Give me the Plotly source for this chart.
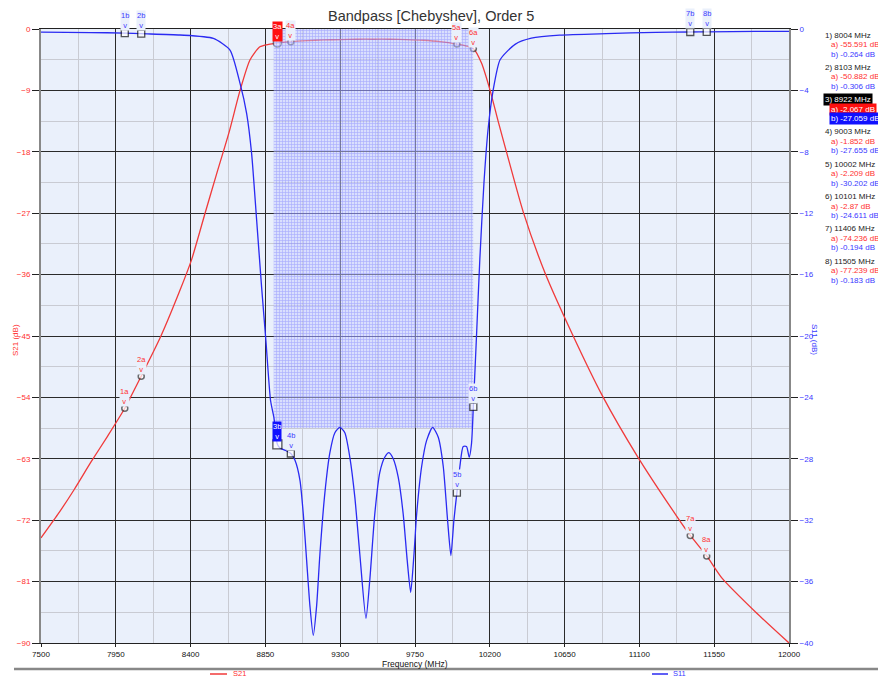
import plotly.graph_objects as go

W, H = 878, 678
L, R, T, B = 41, 89, 29, 35
PW, PH = W - L - R, H - T - B

RED = "#F03A3A"
BLUE = "#2A2AF2"
TXT_RED = "#FF3030"
TXT_BLUE = "#3A3AFF"
PLOT_BG = "#EAF0FB"
FONT = "Liberation Sans, Arial, sans-serif"

# ---------------- data ----------------
s21_freq = [7500, 7600, 7700, 7800, 7900, 8004, 8103, 8216, 8336, 8406, 8487, 8557,
            8633, 8697, 8757, 8817, 8870, 8922, 9003, 9100, 9200, 9300, 9400, 9500,
            9600, 9700, 9800, 9900, 10002, 10060, 10101, 10150, 10203, 10250, 10299,
            10401, 10533, 10696, 10876, 11087, 11327, 11406, 11505, 11597, 11800, 12000]
s21_db = [-74.6, -71.2, -67.5, -63.5, -59.7, -55.591, -50.882, -45.3, -38.3, -33.8, -27.0, -21.2,
          -15.0, -9.04, -4.54, -2.6, -2.25, -2.067, -1.852, -1.7, -1.6, -1.55, -1.5, -1.5,
          -1.5, -1.55, -1.65, -1.85, -2.209, -2.5, -2.87, -5.0, -9.1, -13.5, -17.9,
          -26.8, -35.8, -44.7, -53.7, -62.6, -71.5, -74.236, -77.239, -80.5, -85.5, -90.0]

s11_freq = [7500, 7800, 8004, 8103, 8336, 8537, 8637, 8697, 8737, 8767, 8797, 8827, 8853,
            8881, 8901, 8922, 8938, 8970, 9003, 9028, 9058, 9078, 9098, 9118, 9138, 9158,
            9178, 9208, 9238, 9268, 9298, 9328, 9358, 9388, 9418, 9455, 9478, 9508, 9538,
            9568, 9593, 9619, 9649, 9679, 9703, 9724, 9744, 9760, 9790, 9820, 9856, 9890,
            9920, 9946, 9966, 9984, 10002, 10020, 10040, 10060, 10076, 10090, 10101, 10120,
            10140, 10165, 10190, 10220, 10262, 10352, 10450, 10620, 10900, 11200, 11406,
            11505, 11800, 12000]
s11_db = [-0.2, -0.23, -0.264, -0.306, -0.39, -0.61, -1.37, -3.53, -5.49, -8.1, -12.4, -16.8, -20.3,
          -24.2, -25.3, -27.059, -27.3, -27.45, -27.655, -28.1, -29.4, -31.6, -34.6, -37.6, -39.5, -37.6,
          -34.2, -30.2, -27.6, -26.3, -25.95, -26.3, -27.9, -30.5, -34.2, -38.4, -35.9, -31.6, -28.9,
          -27.9, -27.6, -28.0, -29.2, -31.6, -34.6, -36.7, -34.2, -31.6, -28.5, -26.8, -25.95, -26.6,
          -28.5, -32.0, -34.3, -32.0, -30.202, -28.5, -27.2, -27.2, -27.9, -27.0, -24.611, -20.0,
          -15.0, -10.0, -6.5, -4.0, -2.0, -1.0, -0.6, -0.4, -0.3, -0.22, -0.194,
          -0.183, -0.16, -0.15]

marker_freq = [8004, 8103, 8922, 9003, 10002, 10101, 11406, 11505]
marker_a = [-55.591, -50.882, -2.067, -1.852, -2.209, -2.87, -74.236, -77.239]
marker_b = [-0.264, -0.306, -27.059, -27.655, -30.202, -24.611, -0.194, -0.183]
active_marker = 3

spec_freq = [8900, 10100]
spec_s11 = [0, -26]

x_ticks = list(range(7500, 12001, 450))
x_ticktext = [str(v) for v in x_ticks]
s21_ticks = list(range(-90, 1, 9))
s11_ticks = list(range(-40, 1, 4))


def px(x):
    return (x - L) / PW


def py(y):
    return (H - B - y) / PH


fig = go.Figure()

# spec box
fig.add_trace(go.Scatter(
    x=[spec_freq[0], spec_freq[1], spec_freq[1], spec_freq[0], spec_freq[0]],
    y=[spec_s11[0], spec_s11[0], spec_s11[1], spec_s11[1], spec_s11[0]],
    yaxis="y2", mode="lines", line=dict(width=0), fill="toself",
    fillcolor="rgba(200,205,255,0.6)",
    fillpattern=dict(shape="+", size=3, solidity=0.35, fgcolor="rgba(70,70,255,0.7)",
                     bgcolor="rgba(200,205,255,0.5)", fillmode="overlay"),
    hoverinfo="skip", showlegend=False))

fig.add_trace(go.Scatter(x=s21_freq, y=s21_db, name="S21", mode="lines",
                         line=dict(color=RED, width=1.3, shape="spline", smoothing=0.6),
                         showlegend=False))
fig.add_trace(go.Scatter(x=s11_freq, y=s11_db, name="S11", mode="lines", yaxis="y2",
                         line=dict(color=BLUE, width=1.3, shape="spline", smoothing=0.6),
                         showlegend=False))

# marker points
sizes_a = [8 if i + 1 == active_marker else 6 for i in range(len(marker_freq))]
sizes_b = [9 if i + 1 == active_marker else 7 for i in range(len(marker_freq))]
fig.add_trace(go.Scatter(x=marker_freq, y=marker_a, mode="markers", showlegend=False,
                         marker=dict(symbol="circle", color="white", size=sizes_a,
                                     line=dict(color="#333333", width=1.5)), cliponaxis=False))
fig.add_trace(go.Scatter(x=marker_freq, y=marker_b, mode="markers", yaxis="y2", showlegend=False,
                         marker=dict(symbol="square", color="white", size=sizes_b,
                                     line=dict(color="#111111", width=1.3)), cliponaxis=False))

annotations = []
for i, f in enumerate(marker_freq):
    n = i + 1
    act = n == active_marker
    annotations.append(dict(
        x=f, y=marker_a[i], xref="x", yref="y", text=f"{n}a<br>v", showarrow=False,
        xanchor="center", yanchor="middle", yshift=11.5,
        font=dict(size=7.5, color="white" if act else TXT_RED, family=FONT),
        bgcolor=("#FF1010" if act else PLOT_BG), borderpad=0))
    annotations.append(dict(
        x=f, y=marker_b[i], xref="x", yref="y2", text=f"{n}b<br>v", showarrow=False,
        xanchor="center", yanchor="middle", yshift=13,
        font=dict(size=7.5, color="white" if act else TXT_BLUE, family=FONT),
        bgcolor=("#1010FF" if act else PLOT_BG), borderpad=0))

# marker readout list
for i, f in enumerate(marker_freq):
    n = i + 1
    act = n == active_marker
    y0 = 35 + i * 32.3
    annotations.append(dict(x=px(823), y=py(y0), xref="paper", yref="paper", xanchor="left",
                            yanchor="middle", showarrow=False, text=f"{n}) {f} MHz",
                            font=dict(size=8, color="white" if act else "#222222", family=FONT),
                            bgcolor="#000000" if act else None, borderpad=1))
    annotations.append(dict(x=px(829), y=py(y0 + 9.5), xref="paper", yref="paper", xanchor="left",
                            yanchor="middle", showarrow=False, text=f"a) {marker_a[i]} dB",
                            font=dict(size=8, color="white" if act else TXT_RED, family=FONT),
                            bgcolor="#FF1010" if act else None, borderpad=1))
    annotations.append(dict(x=px(829), y=py(y0 + 19), xref="paper", yref="paper", xanchor="left",
                            yanchor="middle", showarrow=False, text=f"b) {marker_b[i]} dB",
                            font=dict(size=8, color="white" if act else TXT_BLUE, family=FONT),
                            bgcolor="#1010FF" if act else None, borderpad=1))

# titles
annotations.append(dict(x=px(431), y=py(15.5), xref="paper", yref="paper", showarrow=False,
                        xanchor="center", yanchor="middle", text="Bandpass [Chebyshev], Order 5",
                        font=dict(size=14.5, color="#333333", family=FONT)))
annotations.append(dict(x=px(15), y=py(340), xref="paper", yref="paper", showarrow=False,
                        xanchor="center", yanchor="middle", text="S21 (dB)", textangle=-90,
                        font=dict(size=8, color=TXT_RED, family=FONT)))
annotations.append(dict(x=px(815), y=py(340), xref="paper", yref="paper", showarrow=False,
                        xanchor="center", yanchor="middle", text="S11 (dB)", textangle=90,
                        font=dict(size=8, color=TXT_BLUE, family=FONT)))
annotations.append(dict(x=px(415), y=py(664), xref="paper", yref="paper", showarrow=False,
                        xanchor="center", yanchor="middle", text="Frequency (MHz)",
                        font=dict(size=8.5, color="#111111", family=FONT)))
# legend
annotations.append(dict(x=px(231), y=py(673.5), xref="paper", yref="paper", showarrow=False,
                        xanchor="left", yanchor="middle", text="S21",
                        font=dict(size=7.5, color=TXT_RED, family=FONT)))
annotations.append(dict(x=px(671), y=py(673.5), xref="paper", yref="paper", showarrow=False,
                        xanchor="left", yanchor="middle", text="S11",
                        font=dict(size=7.5, color=TXT_BLUE, family=FONT)))

shapes = [
    dict(type="line", xref="paper", yref="paper", x0=px(14), x1=px(878), y0=py(669), y1=py(669),
         line=dict(color="#888888", width=2.5)),
    dict(type="line", xref="paper", yref="paper", x0=px(210), x1=px(227), y0=py(674), y1=py(674),
         line=dict(color=RED, width=1.5)),
    dict(type="line", xref="paper", yref="paper", x0=px(652), x1=px(668), y0=py(674), y1=py(674),
         line=dict(color=BLUE, width=1.5)),
]

fig.update_layout(
    width=W, height=H, margin=dict(l=L, r=R, t=T, b=B, autoexpand=False),
    paper_bgcolor="white", plot_bgcolor=PLOT_BG,
    font=dict(family=FONT, size=8),
    showlegend=False,
    xaxis=dict(range=[7500, 12000], tickvals=x_ticks, ticktext=x_ticktext, ticks="outside", ticklen=3,
               tickcolor="#222222", tickfont=dict(size=8, color="#111111"),
               showgrid=True, gridcolor="#2a2a2a", gridwidth=1,
               minor=dict(dtick=225, tick0=7500, showgrid=True, gridcolor="#C9CBD3", gridwidth=1),
               showline=True, linecolor="#222222", linewidth=1, mirror=True, zeroline=False),
    yaxis=dict(range=[-90, 0], tickvals=s21_ticks, ticks="outside", ticklen=7,
               tickcolor="#222222", tickfont=dict(size=8, color=TXT_RED),
               showgrid=True, gridcolor="#2a2a2a", gridwidth=1,
               minor=dict(dtick=4.5, tick0=0, showgrid=True, gridcolor="#C9CBD3", gridwidth=1),
               showline=True, linecolor="#888888", linewidth=2, zeroline=False),
    yaxis2=dict(range=[-40, 0], tickvals=s11_ticks, overlaying="y", side="right",
                ticks="outside", ticklen=7, tickcolor="#222222",
                tickfont=dict(size=8, color=TXT_BLUE), showgrid=False,
                showline=True, linecolor="#888888", linewidth=2, zeroline=False),
    annotations=annotations, shapes=shapes,
)

fig.write_html("out.html", config={"displayModeBar": False},
               post_script="document.body.style.margin='0';")
